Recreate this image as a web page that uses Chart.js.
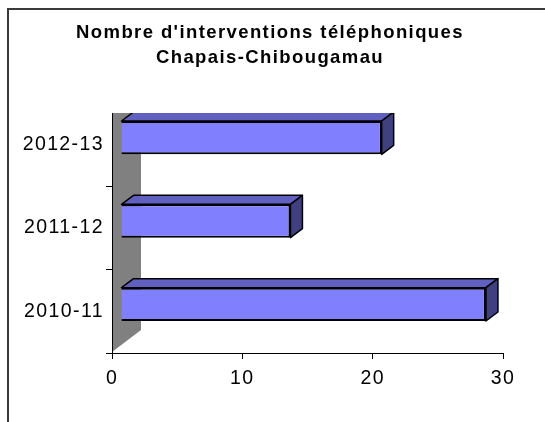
<!DOCTYPE html>
<html>
<head>
<meta charset="utf-8">
<script src="https://cdn.jsdelivr.net/npm/chart.js@4.4.0/dist/chart.umd.min.js"></script>
<style>
html, body { margin: 0; padding: 0; background: #fff; }
#wrap { position: relative; width: 545px; height: 422px; overflow: hidden; }
#frame { position: absolute; left: 7px; top: 8px; width: 600px; height: 500px; border-left: 2px solid #3a3a3a; border-top: 2px solid #3a3a3a; }
canvas { position: absolute; left: 0; top: 0; }
</style>
</head>
<body>
<div id="wrap">
  <div id="frame"></div>
  <canvas id="myChart" width="545" height="422"></canvas>
</div>
<script>
let labels = ['2012-13', '2011-12', '2010-11'];
let data1 = [20, 13, 28];
let xTicks = [0, 10, 20, 30];

let font = '"Liberation Sans", Arial, sans-serif';

// fake 3D depth, in pixels
let depth = { wallX: 29, wallY: 22, barX: 9, barY: 7, faceX: 12, faceY: 9 };

// Excel-like wide text
let spacing = {
	id: 'spacing',
	beforeDraw(chart) {
		chart.ctx.letterSpacing = '1.4px';
	}
};

let bar3d = {
	id: 'bar3d',
	beforeDatasetsDraw(chart) {
		let ctx = chart.ctx;
		let a = chart.chartArea;
		let top = a.top + 10;
		ctx.save();
		ctx.fillStyle = '#808080';
		ctx.beginPath();
		ctx.moveTo(a.left, top);
		ctx.lineTo(a.left + depth.wallX, top);
		ctx.lineTo(a.left + depth.wallX, a.bottom - 1 - depth.wallY);
		ctx.lineTo(a.left, a.bottom - 1);
		ctx.closePath();
		ctx.fill();
		ctx.strokeStyle = '#000';
		ctx.lineWidth = 1;
		ctx.beginPath();
		ctx.moveTo(a.left + 0.5, top);
		ctx.lineTo(a.left + 0.5, a.bottom);
		ctx.stroke();
		ctx.restore();
		ctx.save();
		ctx.translate(depth.barX, -depth.barY);
	},
	afterDatasetsDraw(chart) {
		let ctx = chart.ctx;
		let a = chart.chartArea;
		ctx.restore();
		let meta = chart.getDatasetMeta(0);
		ctx.save();
		ctx.beginPath();
		ctx.rect(0, a.top + 10, chart.width, chart.height);
		ctx.clip();
		ctx.translate(depth.barX, -depth.barY);
		ctx.lineWidth = 1.5;
		ctx.strokeStyle = '#000';
		ctx.lineJoin = 'round';
		let fx = depth.faceX, fy = depth.faceY;
		meta.data.forEach(bar => {
			let p = bar.getProps(['x', 'y', 'base', 'height'], true);
			let l = Math.min(p.x, p.base), r = Math.max(p.x, p.base);
			let t = p.y - p.height / 2, b = p.y + p.height / 2;
			ctx.fillStyle = '#6060C0';
			ctx.beginPath();
			ctx.moveTo(l, t);
			ctx.lineTo(l + fx, t - fy);
			ctx.lineTo(r + fx, t - fy);
			ctx.lineTo(r, t);
			ctx.closePath();
			ctx.fill();
			ctx.stroke();
			ctx.fillStyle = '#404080';
			ctx.beginPath();
			ctx.moveTo(r, t);
			ctx.lineTo(r + fx, t - fy);
			ctx.lineTo(r + fx, b - fy);
			ctx.lineTo(r, b);
			ctx.closePath();
			ctx.fill();
			ctx.stroke();
		});
		ctx.restore();
	}
};

let myChart = document.getElementById('myChart').getContext('2d');

let chart = new Chart(myChart, {
	type: 'bar',
	data: {
		labels: labels,
		datasets: [{
			data: data1,
			backgroundColor: '#8080FF',
			borderColor: '#000',
			borderWidth: 2,
			barPercentage: 0.4,
			categoryPercentage: 1
		}]
	},
	options: {
		indexAxis: 'y',
		responsive: false,
		animation: false,
		layout: { padding: { left: 0, right: 5, top: 0, bottom: 0 } },
		plugins: {
			legend: { display: false },
			tooltip: { enabled: false },
			title: {
				display: true,
				text: ["Nombre d'interventions téléphoniques", 'Chapais-Chibougamau'],
				color: '#000',
				font: { family: font, size: 18.5, weight: 'bold', lineHeight: '25px' },
				padding: { top: 20, bottom: 33 }
			}
		},
		scales: {
			x: {
				min: xTicks[0],
				max: xTicks[xTicks.length - 1],
				ticks: { stepSize: xTicks[1] - xTicks[0], color: '#000', font: { family: font, size: 19.5 }, padding: 8 },
				grid: { drawOnChartArea: false, tickLength: 6, color: '#000' },
				border: { color: '#000' },
				afterFit: s => { s.height = 69; }
			},
			y: {
				ticks: { color: '#000', font: { family: font, size: 19.5 }, padding: 2 },
				grid: {
					offset: true,
					drawOnChartArea: false,
					tickLength: 6,
					color: c => c.index === 0 ? 'rgba(0,0,0,0)' : '#000'
				},
				border: { display: false },
				afterFit: s => { s.width = 112; }
			},
			// empty right axis, only keeps the plot inside the frame
			y2: {
				type: 'category',
				position: 'right',
				grid: { display: false },
				ticks: { display: false },
				border: { display: false },
				afterFit: s => { s.width = 37; }
			}
		}
	},
	plugins: [spacing, bar3d]
});
</script>
</body>
</html>
